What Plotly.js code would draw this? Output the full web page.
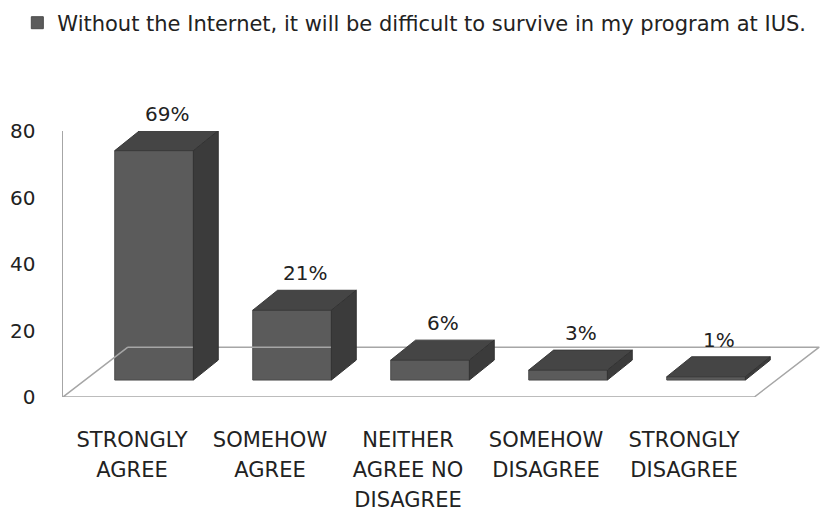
<!DOCTYPE html>
<html>
<head>
<meta charset="utf-8">
<script src="https://cdn.plot.ly/plotly-3.0.1.min.js"></script>
<style>html,body{margin:0;padding:0;background:#fff;}#chart{width:825px;height:513px;}</style>
</head>
<body>
<div id="chart"></div>
<script>
// ---- data ----
const categories = ['STRONGLY AGREE', 'SOMEHOW AGREE', 'NEITHER AGREE NO DISAGREE', 'SOMEHOW DISAGREE', 'STRONGLY DISAGREE'];
const tickLabels = ['STRONGLY<br>AGREE', 'SOMEHOW<br>AGREE', 'NEITHER<br>AGREE NO<br>DISAGREE', 'SOMEHOW<br>DISAGREE', 'STRONGLY<br>DISAGREE'];
const values = [69, 21, 6, 3, 1];
const valueLabels = ['69%', '21%', '6%', '3%', '1%'];
const seriesName = 'Without the Internet, it will be difficult to survive in my program at IUS.';
const yTicks = [0, 20, 40, 60, 80];

// ---- 3D look (in axis units) ----
const FONT = 'DejaVu Sans, sans-serif';
const idx = categories.map((c, i) => i);
const frontDX = 0.16, baseY = 5.1, barW = 0.57;
const depX = 0.18, depY = 6.0;
const floorDX = 0.47, floorDY = 15.0;

const frontX = idx.map(i => i + frontDX);
const topX = [], topY = [], sideX = [], sideY = [];
idx.forEach(i => {
  const l = frontX[i] - barW / 2, r = frontX[i] + barW / 2;
  const b = baseY, t = baseY + values[i];
  topX.push(l, r, r + depX, l + depX, l, null);
  topY.push(t, t, t + depY, t + depY, t, null);
  sideX.push(r, r + depX, r + depX, r, r, null);
  sideY.push(b, b + depY, t + depY, t, b, null);
});

const fx0 = -0.5, fx1 = 4.51;
const floorTrace = {
  x: [fx0 + floorDX, fx1 + floorDX, fx1, fx0, fx0 + floorDX],
  y: [floorDY, floorDY, 0, 0, floorDY],
  type: 'scatter', mode: 'lines', line: {color: '#a6a6a6', width: 1.5},
  hoverinfo: 'skip', showlegend: false
};
const frontTrace = {
  x: frontX, y: values, base: baseY, width: barW, type: 'bar', name: seriesName,
  marker: {color: '#5b5b5b', line: {color: '#4a4a4a', width: 1}}, showlegend: true
};
const topTrace = {
  x: topX, y: topY, type: 'scatter', mode: 'lines', fill: 'toself',
  fillcolor: '#454545', line: {color: '#3a3a3a', width: 1}, showlegend: false, hoverinfo: 'skip'
};
const sideTrace = {
  x: sideX, y: sideY, type: 'scatter', mode: 'lines', fill: 'toself',
  fillcolor: '#3b3b3b', line: {color: '#333', width: 1}, showlegend: false, hoverinfo: 'skip'
};

// anchored at the front top edge (inside the axis range), lifted above the top face
const annotations = idx.map(i => ({
  x: frontX[i] + depX / 2, y: baseY + values[i], xref: 'x', yref: 'y',
  text: valueLabels[i], showarrow: false, xanchor: 'center', yanchor: 'middle', yshift: 37,
  font: {size: 20, color: '#222', family: FONT}
}));

const layout = {
  width: 825, height: 513,
  margin: {l: 63, r: 3, t: 131, b: 116},
  paper_bgcolor: '#fff', plot_bgcolor: '#fff',
  font: {family: FONT, color: '#222'},
  showlegend: true,
  legend: {
    orientation: 'h', xref: 'container', yref: 'container', x: 0.021, y: 0.995,
    xanchor: 'left', yanchor: 'top', font: {size: 21, color: '#222', family: FONT},
    itemwidth: 30
  },
  annotations: annotations,
  xaxis: {
    range: [-0.5, 5.0], tickvals: idx,
    ticktext: tickLabels.map(t => t.split('<br>').map(s => '<span style="font-size:21px">' + s + '</span>').join('<br>')),
    tickfont: {size: 23, color: '#222', family: FONT}, ticks: '', showgrid: false, zeroline: false, showline: false,
    ticklabelstandoff: 26, fixedrange: true
  },
  yaxis: {
    range: [0, 80], tickvals: yTicks, ticks: '', showgrid: false, zeroline: false,
    showline: true, linecolor: '#a6a6a6', linewidth: 1.5,
    tickfont: {size: 20, color: '#222', family: FONT}, ticklabelstandoff: 22, fixedrange: true
  },
  bargap: 0
};

Plotly.newPlot('chart', [floorTrace, frontTrace, topTrace, sideTrace], layout, {displayModeBar: false, staticPlot: true});
</script>
</body>
</html>
